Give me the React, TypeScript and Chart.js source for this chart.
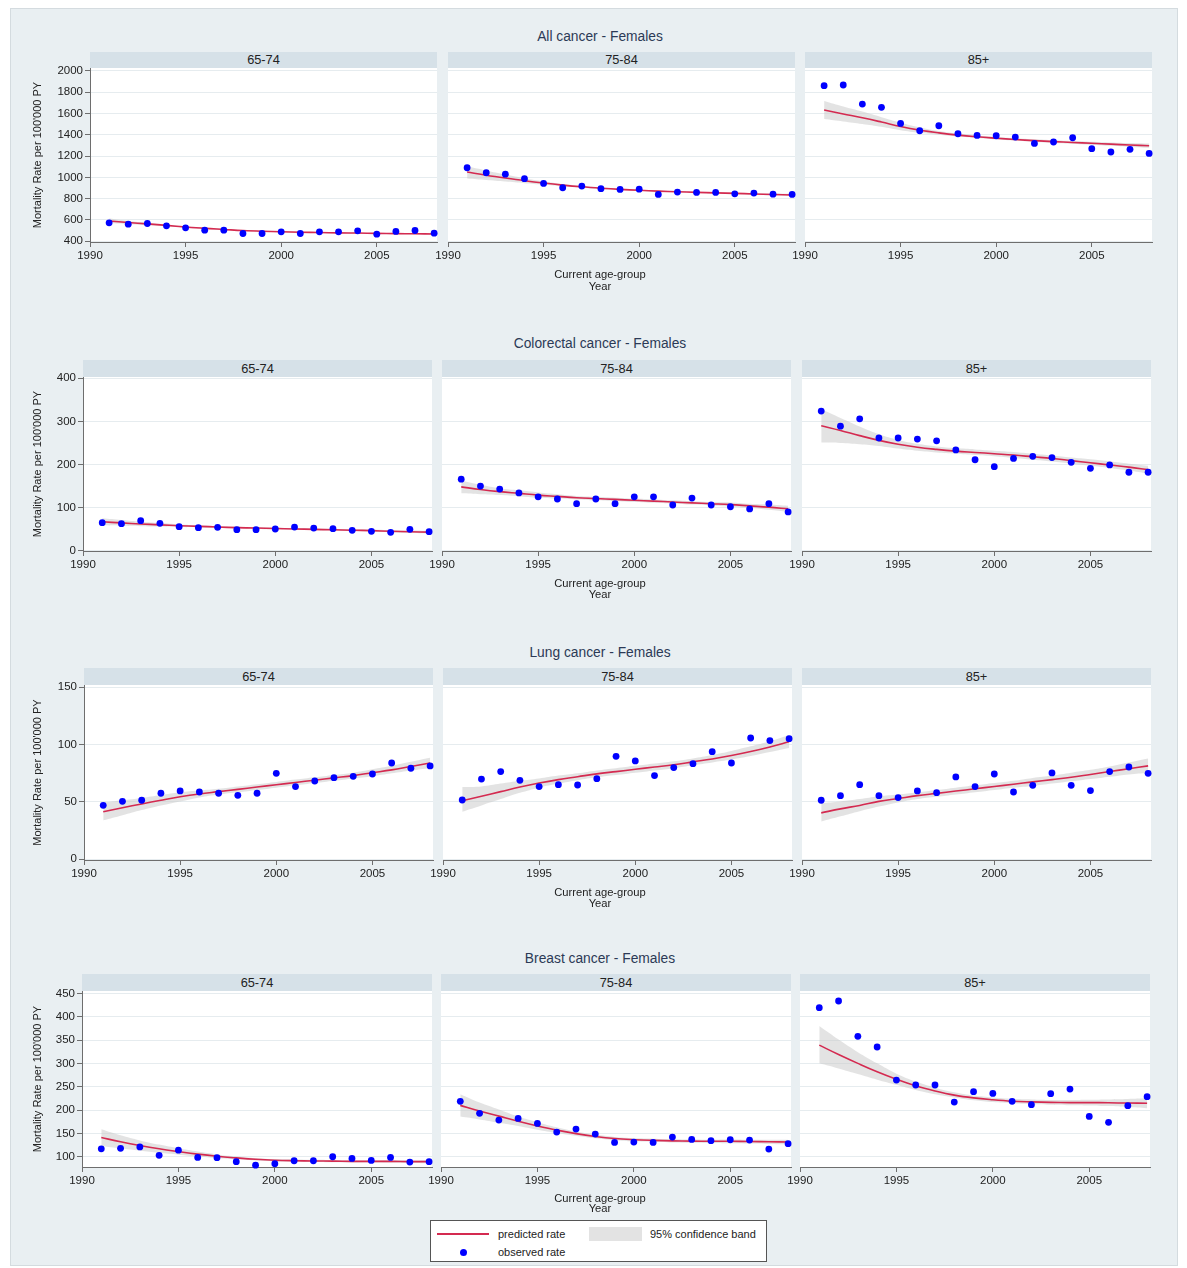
import React, { useEffect, useRef } from "react";
import { Chart, registerables } from "chart.js";
Chart.register(...registerables);

// ---------- DATA ----------
const years = [1991, 1992, 1993, 1994, 1995, 1996, 1997, 1998, 1999, 2000, 2001, 2002, 2003, 2004, 2005, 2006, 2007, 2008];
const xTicks = [1990, 1995, 2000, 2005];
const ageGroups = ["65-74", "75-84", "85+"];
const cancerTitles = ["All cancer - Females", "Colorectal cancer - Females", "Lung cancer - Females", "Breast cancer - Females"];
const yAxisTitle = "Mortality Rate per 100'000 PY";
const byLabel = "Current age-group";
const xAxisTitle = "Year";

const allYTicks = [400, 600, 800, 1000, 1200, 1400, 1600, 1800, 2000];
const colYTicks = [0, 100, 200, 300, 400];
const lungYTicks = [0, 50, 100, 150];
const breastYTicks = [100, 150, 200, 250, 300, 350, 400, 450];

// All cancer
const allObs6574 = [572, 560, 566, 544, 525, 503, 503, 472, 472, 488, 472, 488, 488, 497, 466, 491, 500, 475];
const allPred6574 = [590, 575, 562, 548, 533, 520, 510, 500, 493, 488, 484, 481, 478, 476, 473, 471, 469, 467];
const allLo6574 = [568, 560, 550, 539, 526, 514, 505, 496, 489, 484, 480, 477, 474, 472, 469, 466, 464, 461];
const allHi6574 = [612, 590, 574, 557, 540, 526, 515, 504, 497, 492, 488, 485, 482, 480, 477, 476, 474, 473];

const allObs7584 = [1090, 1043, 1030, 987, 943, 902, 918, 893, 886, 889, 839, 861, 858, 858, 845, 852, 842, 839];
const allPred7584 = [1050, 1020, 993, 968, 946, 927, 911, 898, 887, 878, 870, 864, 859, 854, 849, 844, 839, 834];
const allLo7584 = [990, 975, 960, 945, 930, 916, 903, 891, 881, 872, 864, 858, 853, 848, 842, 837, 831, 824];
const allHi7584 = [1105, 1065, 1026, 991, 962, 938, 919, 905, 893, 884, 876, 870, 865, 860, 856, 851, 847, 844];

const allObs85 = [1862, 1868, 1689, 1658, 1507, 1438, 1485, 1410, 1394, 1391, 1379, 1319, 1332, 1372, 1269, 1238, 1263, 1225];
const allPred85 = [1633, 1596, 1560, 1520, 1478, 1444, 1418, 1397, 1381, 1368, 1356, 1345, 1336, 1328, 1320, 1312, 1304, 1297];
const allLo85 = [1548, 1526, 1502, 1475, 1443, 1419, 1400, 1383, 1369, 1356, 1344, 1333, 1323, 1314, 1305, 1296, 1286, 1277];
const allHi85 = [1718, 1666, 1618, 1565, 1513, 1469, 1436, 1411, 1393, 1380, 1368, 1357, 1349, 1342, 1335, 1328, 1322, 1317];

// Colorectal cancer
const colObs6574 = [65, 62.7, 69.6, 63.4, 55.7, 53.4, 54.2, 48.7, 48.7, 50.3, 54.9, 52.6, 51, 47.2, 44.9, 42.6, 49.5, 44.1];
const colPred6574 = [67, 64.5, 62, 60, 58, 56.5, 55, 53.5, 52.5, 51.5, 50.5, 49.5, 48.5, 47.5, 46.5, 45, 44, 43];
const colLo6574 = [59, 58, 57, 56, 55, 54, 53, 51.5, 50.5, 49.5, 48.5, 47.5, 46.5, 45.5, 44, 42.5, 41, 39.5];
const colHi6574 = [75, 71, 67, 64, 61, 59, 57, 55.5, 54.5, 53.5, 52.5, 51.5, 50.5, 49.5, 49, 47.5, 47, 46.5];

const colObs7584 = [166, 150, 143, 134, 125, 120, 109, 120, 109, 125, 125, 106, 122, 106, 102, 97, 109, 90];
const colPred7584 = [148, 142, 137, 133, 129, 126, 123, 121, 119, 117, 115, 113, 111, 109, 107, 104, 101, 97];
const colLo7584 = [133, 131, 129, 126, 123, 121, 119, 117, 115, 113, 111, 109, 107, 105, 102, 99, 95, 90];
const colHi7584 = [163, 153, 145, 140, 135, 131, 127, 125, 123, 121, 119, 117, 115, 113, 112, 109, 107, 104];

const colObs85 = [324, 289, 306, 261.5, 261.5, 259, 255, 233.7, 211, 195, 214, 219, 216, 205, 191, 199, 182, 182];
const colPred85 = [290, 279, 267, 256, 247, 240, 235, 231, 228, 225, 222, 218, 214, 209, 204, 199, 194, 188];
const colLo85 = [251, 250, 247, 243, 237, 232, 228, 225, 222, 219, 215, 211, 207, 202, 197, 192, 186, 179];
const colHi85 = [328, 308, 288, 270, 257, 248, 242, 238, 235, 232, 229, 225, 221, 216, 212, 207, 202, 197];

// Lung cancer
const lungObs6574 = [47.1, 50.6, 51.5, 57.6, 59.6, 58.7, 57.6, 55.8, 57.6, 75, 63.4, 68.3, 71.2, 72.4, 74.4, 84, 79.4, 81.4];
const lungPred6574 = [41.5, 45, 48.3, 51.5, 54.5, 57, 59, 61, 63, 65, 67, 69, 71, 73, 75.5, 78, 81, 84];
const lungLo6574 = [34, 38.5, 43, 47, 50.5, 54, 56.5, 58.5, 60.5, 62.5, 64.5, 66.5, 68.5, 70.5, 72.5, 75, 77.5, 79.5];
const lungHi6574 = [49.5, 51.5, 53.5, 56, 58.5, 60, 61.5, 63.5, 65.5, 67.5, 69.5, 71.5, 73.5, 75.5, 78.5, 81.5, 85, 88.5];

const lungObs7584 = [51.7, 70, 76.5, 68.9, 63.4, 65.1, 64.8, 70.3, 89.8, 85.8, 73, 80, 83.4, 93.9, 84, 105.8, 103.5, 105.2];
const lungPred7584 = [51, 55, 59, 63, 66.5, 69.5, 72, 74.5, 76.5, 78.5, 80.5, 82.5, 85, 87.5, 90.5, 94, 98, 102.5];
const lungLo7584 = [41.5, 47, 52.5, 58, 62.5, 66, 69, 71.5, 73.5, 75.5, 77.5, 79.5, 82, 84.5, 87, 90, 93.5, 97];
const lungHi7584 = [63, 63.5, 66, 68.5, 70.5, 73, 75, 77.5, 79.5, 81.5, 83.5, 85.5, 88, 91, 94.5, 98.5, 103, 108.5];

const lungObs85 = [51.5, 55.5, 65.1, 55.5, 53.8, 59.6, 58.1, 71.8, 63.4, 74.4, 58.7, 64.5, 75.3, 64.5, 59.9, 76.5, 80.5, 75];
const lungPred85 = [40.5, 44, 47, 50.5, 53, 55.5, 57.5, 59.5, 61.5, 63.5, 65.5, 67.5, 69.5, 71.5, 74, 76.5, 79, 81.5];
const lungLo85 = [33, 37.5, 42, 46, 49.5, 52.5, 54.5, 56.5, 58.5, 60.5, 62.5, 64, 66, 68, 70, 72, 74, 75.5];
const lungHi85 = [49, 50.5, 52.5, 55, 56.5, 58.5, 60.5, 62.5, 64.5, 66.5, 68.5, 71, 73, 75.5, 78, 81, 84.5, 88];

// Breast cancer
const brObs6574 = [117, 118, 121, 103, 114, 98.6, 97.9, 89.3, 82, 85, 91.4, 91.4, 100, 96.4, 92, 98.6, 88.6, 89.3];
const brPred6574 = [141, 132, 124, 117, 111, 105.5, 101, 97.5, 94.5, 92.5, 91.5, 91, 90.5, 90, 90, 90, 89.5, 89.5];
const brLo6574 = [123, 118, 113, 108.5, 104.5, 100.5, 97, 94.5, 92, 90, 89, 88.5, 88, 87.5, 87.5, 87, 86.5, 86];
const brHi6574 = [159, 146, 135, 126, 118, 111, 105, 100.5, 97, 95, 94, 93.5, 93, 92.5, 92.5, 93, 92.5, 93];

const brObs7584 = [218.6, 192.9, 178.6, 182, 171.4, 152.9, 159.3, 148.6, 130.7, 131.4, 130.7, 142, 137, 134.3, 136.4, 135.7, 116.4, 127.9];
const brPred7584 = [210, 198, 187, 176, 166, 157, 149.5, 143.5, 139, 136.5, 135, 134, 133.5, 133, 133, 132.5, 132, 131.5];
const brLo7584 = [186, 180, 173, 166, 158, 151, 145, 139.5, 135.5, 133, 131.5, 130.5, 130, 129.5, 129, 128.5, 127.5, 126.5];
const brHi7584 = [234, 216, 201, 186, 174, 163, 154, 147.5, 142.5, 140, 138.5, 137.5, 137, 136.5, 137, 136.5, 136.5, 136.5];

const brObs85 = [419.3, 433.6, 357.9, 335, 264.3, 253.6, 253.6, 217, 239.3, 235.7, 218.6, 211.4, 235, 245, 186.4, 173.6, 209.3, 228.6];
const brPred85 = [339, 319, 300, 282, 266, 252, 241, 232, 226, 222, 219, 217.5, 216.5, 216, 216, 215.5, 215, 214.5];
const brLo85 = [300, 289, 277, 265, 254, 243, 234, 227, 221, 217, 214.5, 212.5, 211.5, 210.5, 210, 208.5, 206.5, 204];
const brHi85 = [380, 351, 324, 300, 278, 261, 248, 238, 231, 227, 224, 222.5, 221.5, 221.5, 222, 222.5, 223.5, 225];

const rowPanels = [
  [[allObs6574, allPred6574, allLo6574, allHi6574], [allObs7584, allPred7584, allLo7584, allHi7584], [allObs85, allPred85, allLo85, allHi85]],
  [[colObs6574, colPred6574, colLo6574, colHi6574], [colObs7584, colPred7584, colLo7584, colHi7584], [colObs85, colPred85, colLo85, colHi85]],
  [[lungObs6574, lungPred6574, lungLo6574, lungHi6574], [lungObs7584, lungPred7584, lungLo7584, lungHi7584], [lungObs85, lungPred85, lungLo85, lungHi85]],
  [[brObs6574, brPred6574, brLo6574, brHi6574], [brObs7584, brPred7584, brLo7584, brHi7584], [brObs85, brPred85, brLo85, brHi85]],
];
const rowYTicks = [allYTicks, colYTicks, lungYTicks, breastYTicks];
const rowYRange = [[392, 2028], [-0.7, 403], [-0.6, 152], [78, 455]];
const xRange = [1990, 2008.15];

// ---------- LAYOUT / STYLE ----------
const FONT = "'Liberation Sans', Arial, Helvetica, sans-serif";
const BG = "#e9eff2";
const STRIP = "#d6e1e8";
const GRID = "#e6ecef";
const AXIS = "#6e6e6e";
const RED = "#d42a50";
const BLUE = "#0000ff";
const BAND = "rgba(200,200,200,0.5)";
const TEXT = "#222";
const TITLE = "#2c3a56";

const rowLayout = [
  { title: 36.5, stripTop: 52, plotTop: 68, plotH: 174, lefts: [90, 448, 805], width: 347, by: 274, year: 286 },
  { title: 344, stripTop: 360, plotTop: 377, plotH: 174, lefts: [83, 442, 802], width: 349, by: 583, year: 594 },
  { title: 653, stripTop: 668, plotTop: 685, plotH: 175, lefts: [84, 443, 802], width: 349, by: 892, year: 903 },
  { title: 959, stripTop: 974, plotTop: 991, plotH: 176, lefts: [82, 441, 800], width: 350, by: 1198, year: 1208 },
];

const PAD_TOP = 10;
const PAD_RIGHT = 5;
const X_H = 30;
const Y_TITLE_X = 38;

const plotBg = {
  id: "plotBg",
  beforeDraw(chart: any) {
    const { ctx, chartArea: a } = chart;
    ctx.save();
    ctx.fillStyle = "#ffffff";
    ctx.fillRect(a.left, a.top, a.right - a.left, a.bottom - a.top);
    ctx.restore();
  },
};

function Panel(props: any) {
  const { series, yTicks, yRange, showY, left, top, width, height } = props;
  const ref = useRef<HTMLCanvasElement>(null);
  const yW = showY ? 72 : 18;
  const cw = yW + width + PAD_RIGHT;
  const ch = PAD_TOP + height + X_H;
  const cl = left - yW;
  const ct = top - PAD_TOP;

  useEffect(() => {
    const [obs, pred, lo, hi] = series;
    const pts = (arr: number[]) => years.map((x, i) => ({ x, y: arr[i] }));
    const tickFont = { family: FONT, size: 11.5 };
    const chart = new Chart(ref.current as HTMLCanvasElement, {
      type: "line",
      data: {
        datasets: [
          { label: "lower", data: pts(lo), borderWidth: 0, borderColor: "rgba(0,0,0,0)", pointRadius: 0, fill: false, order: 4, tension: 0.4 },
          { label: "upper", data: pts(hi), borderWidth: 0, borderColor: "rgba(0,0,0,0)", pointRadius: 0, fill: "-1", backgroundColor: BAND, order: 3, tension: 0.4 },
          { label: "predicted rate", data: pts(pred), borderColor: RED, borderWidth: 1.6, pointRadius: 0, fill: false, order: 2, tension: 0.4 },
          { label: "observed rate", data: pts(obs), showLine: false, pointRadius: 3.4, pointBackgroundColor: BLUE, pointBorderWidth: 0, order: 1, clip: false },
        ],
      } as any,
      options: {
        responsive: false,
        animation: false,
        events: [],
        layout: { padding: { top: PAD_TOP, right: PAD_RIGHT, left: 0, bottom: 0 } },
        plugins: { legend: { display: false }, tooltip: { enabled: false }, title: { display: false } },
        scales: {
          x: {
            type: "linear",
            min: xRange[0],
            max: xRange[1],
            afterBuildTicks: (s: any) => { s.ticks = xTicks.map((v) => ({ value: v })); },
            afterFit: (s: any) => { s.height = X_H; s.paddingLeft = 0; s.paddingRight = 0; },
            ticks: { callback: (v: any) => String(v), font: tickFont, color: TEXT, padding: 2, maxRotation: 0, autoSkip: false },
            grid: { display: true, drawOnChartArea: false, drawTicks: true, tickLength: 5, tickColor: AXIS, color: AXIS },
            border: { display: true, color: AXIS, width: 1 },
          },
          y: {
            type: "linear",
            min: yRange[0],
            max: yRange[1],
            afterBuildTicks: (s: any) => { s.ticks = yTicks.map((v: number) => ({ value: v })); },
            afterFit: (s: any) => { s.width = yW; s.paddingTop = 0; s.paddingBottom = 0; },
            ticks: { display: showY, callback: (v: any) => String(v), font: tickFont, color: TEXT, padding: 2 },
            grid: { display: true, drawOnChartArea: true, drawTicks: showY, tickLength: 5, tickColor: AXIS, color: GRID, lineWidth: 1 },
            border: { display: showY, color: AXIS, width: 1 },
            title: {
              display: showY,
              text: yAxisTitle,
              font: { family: FONT, size: 11 },
              color: TEXT,
              padding: { top: Y_TITLE_X - cl - 6.6, bottom: 0 },
            },
          },
        },
      } as any,
      plugins: [plotBg],
    });
    return () => chart.destroy();
  }, []);

  return (
    <canvas
      ref={ref}
      width={cw}
      height={ch}
      style={{ position: "absolute", left: cl, top: ct, width: cw, height: ch }}
    />
  );
}

function TextAt(props: any) {
  const { x, y, size, color, children, align } = props;
  const a = align || "center";
  const style: any = {
    position: "absolute",
    top: y - 10,
    height: 20,
    lineHeight: "20px",
    fontFamily: FONT,
    fontSize: size,
    color: color || TEXT,
    whiteSpace: "nowrap",
  };
  if (a === "center") {
    style.left = x - 300;
    style.width = 600;
    style.textAlign = "center";
  } else {
    style.left = x;
  }
  return <div style={style}>{children}</div>;
}

export default function App() {
  return (
    <div style={{ position: "absolute", left: 0, top: 0, width: 1187, height: 1268, background: "#ffffff", overflow: "hidden" }}>
      <div style={{ position: "absolute", left: 10, top: 8, width: 1168, height: 1258, background: BG, boxSizing: "border-box", border: "1px solid #d4dbdf" }} />
      {rowLayout.map((r, ri) => (
        <React.Fragment key={"row" + ri}>
          <TextAt x={600} y={r.title} size={13.8} color={TITLE}>{cancerTitles[ri]}</TextAt>
          {r.lefts.map((l, pi) => (
            <React.Fragment key={"p" + ri + "-" + pi}>
              <div
                style={{
                  position: "absolute",
                  left: l,
                  top: r.stripTop,
                  width: r.width,
                  height: r.plotTop - r.stripTop,
                  background: STRIP,
                  textAlign: "center",
                  fontFamily: FONT,
                  fontSize: 12.8,
                  lineHeight: r.plotTop - r.stripTop + "px",
                  color: TEXT,
                }}
              >
                {ageGroups[pi]}
              </div>
              <Panel
                series={rowPanels[ri][pi]}
                yTicks={rowYTicks[ri]}
                yRange={rowYRange[ri]}
                showY={pi === 0}
                left={l}
                top={r.plotTop}
                width={r.width}
                height={r.plotH}
              />
            </React.Fragment>
          ))}
          <TextAt x={600} y={r.by} size={11.2}>{byLabel}</TextAt>
          <TextAt x={600} y={r.year} size={11.2}>{xAxisTitle}</TextAt>
        </React.Fragment>
      ))}
      <div style={{ position: "absolute", left: 430, top: 1220, width: 337, height: 42, background: "#fff", border: "1px solid #555", boxSizing: "border-box" }}>
        <div style={{ position: "absolute", left: 6, top: 12, width: 52, height: 2, background: RED }} />
        <TextAt x={67} y={13} size={11} align="left">predicted rate</TextAt>
        <div style={{ position: "absolute", left: 158, top: 6, width: 53, height: 14, background: "#e3e3e3" }} />
        <TextAt x={219} y={13} size={11} align="left">95% confidence band</TextAt>
        <div style={{ position: "absolute", left: 29, top: 28, width: 7, height: 7, borderRadius: 4, background: BLUE }} />
        <TextAt x={67} y={31} size={11} align="left">observed rate</TextAt>
      </div>
    </div>
  );
}
